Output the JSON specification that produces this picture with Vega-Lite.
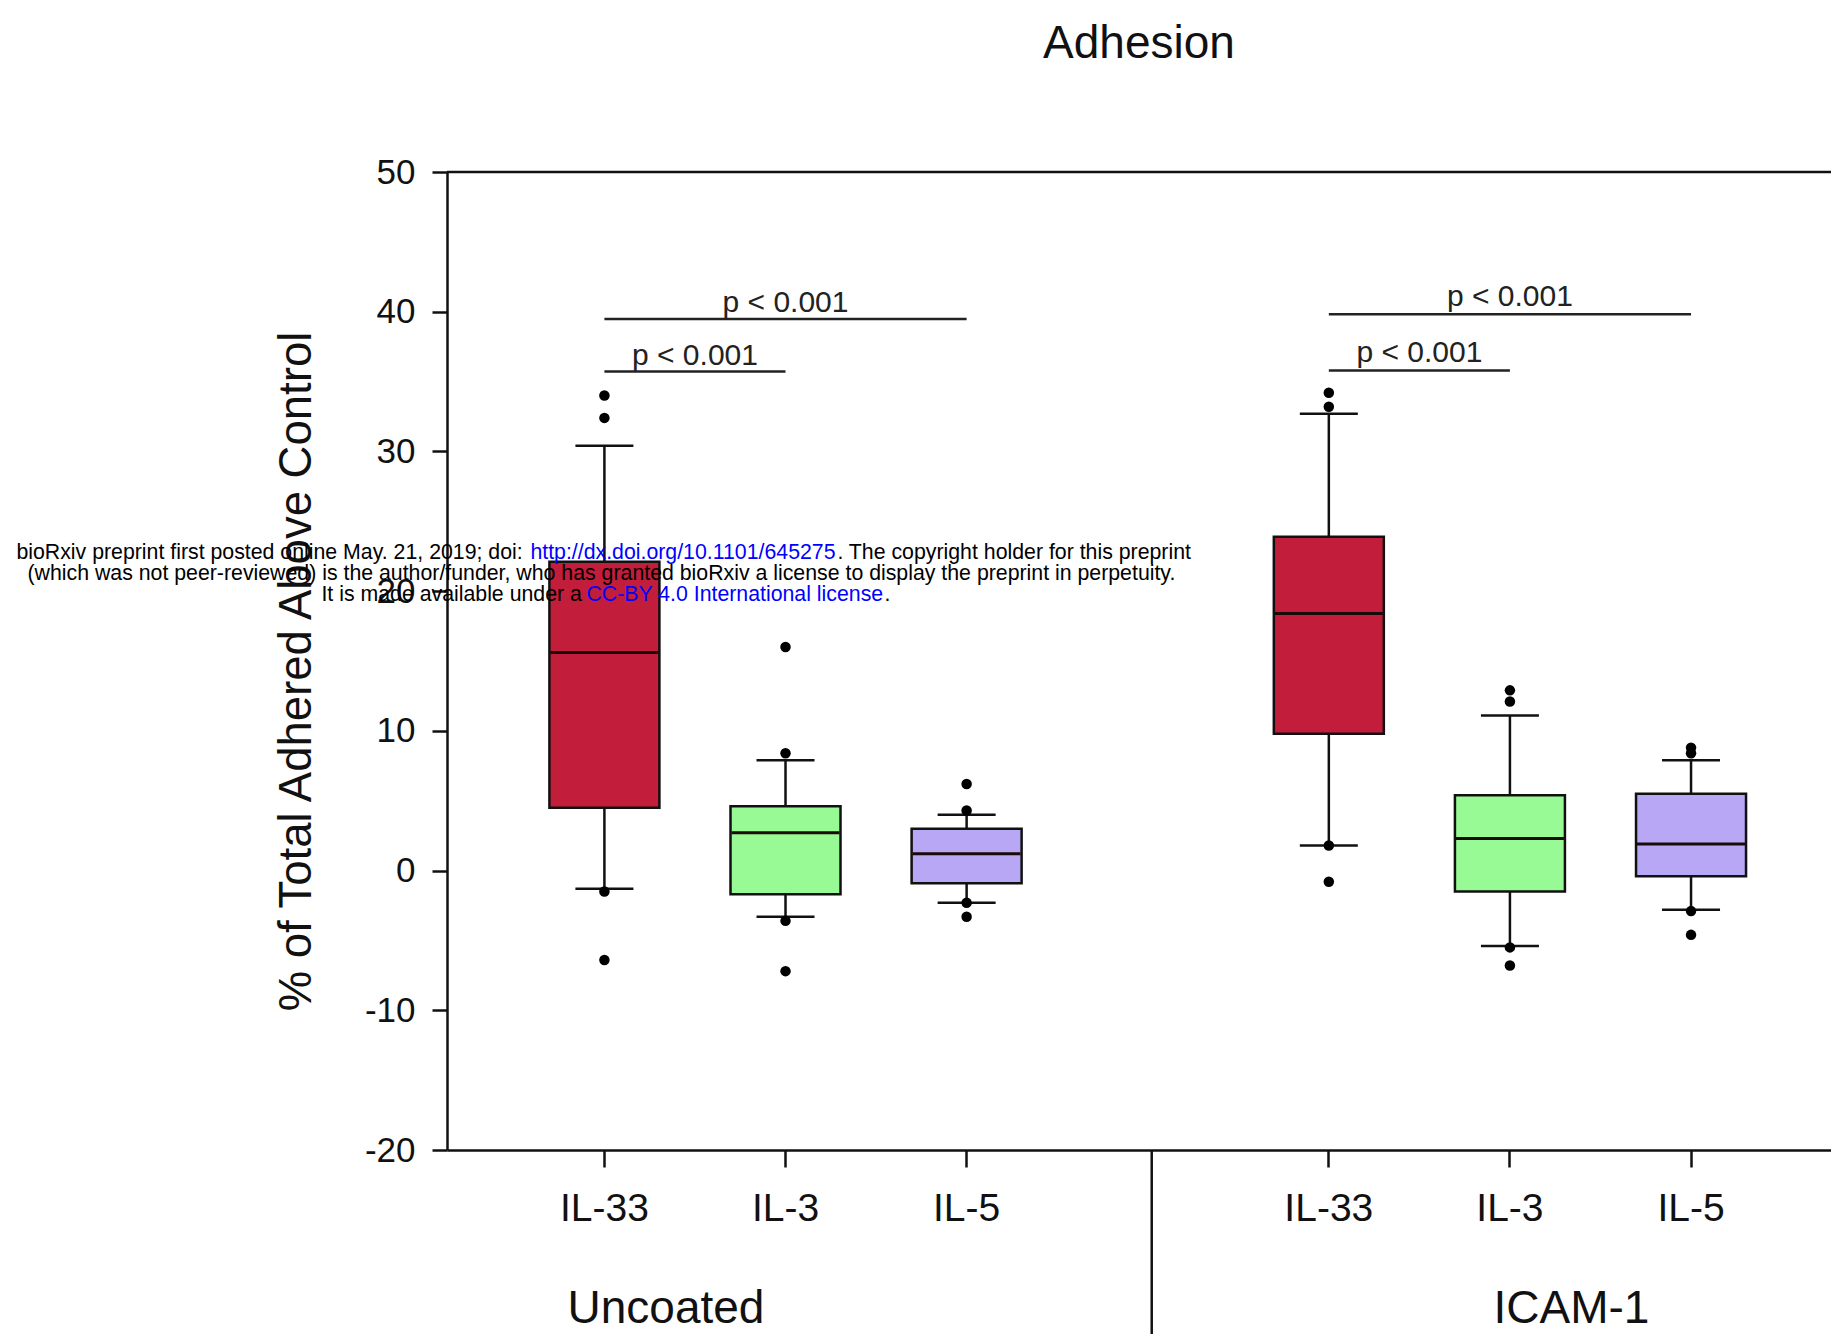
{
  "$schema": "https://vega.github.io/schema/vega-lite/v6.json",
  "width": 1384,
  "height": 978,
  "autosize": "none",
  "padding": {"left": 447, "top": 172, "right": 0, "bottom": 184},
  "background": "white",
  "title": {
    "text": "Adhesion",
    "font": "Liberation Sans",
    "fontSize": 46,
    "fontWeight": "normal",
    "color": "#111111",
    "anchor": "middle",
    "baseline": "alphabetic",
    "offset": 51
  },
  "datasets": {
    "boxes": [
      {"slot": "U-IL-33", "cytokine": "IL-33", "lower": -1.3, "q1": 4.5, "median": 15.6, "q3": 22.1, "upper": 30.4},
      {"slot": "U-IL-3", "cytokine": "IL-3", "lower": -3.3, "q1": -1.7, "median": 2.7, "q3": 4.6, "upper": 7.9},
      {"slot": "U-IL-5", "cytokine": "IL-5", "lower": -2.3, "q1": -0.9, "median": 1.2, "q3": 3.0, "upper": 4.0},
      {"slot": "I-IL-33", "cytokine": "IL-33", "lower": 1.8, "q1": 9.8, "median": 18.4, "q3": 23.9, "upper": 32.7},
      {"slot": "I-IL-3", "cytokine": "IL-3", "lower": -5.4, "q1": -1.5, "median": 2.3, "q3": 5.4, "upper": 11.1},
      {"slot": "I-IL-5", "cytokine": "IL-5", "lower": -2.8, "q1": -0.4, "median": 1.9, "q3": 5.5, "upper": 7.9}
    ],
    "points": [
      {"slot": "U-IL-33", "value": 34.0}, {"slot": "U-IL-33", "value": 32.4}, {"slot": "U-IL-33", "value": -1.5}, {"slot": "U-IL-33", "value": -6.4},
      {"slot": "U-IL-3", "value": 16.0}, {"slot": "U-IL-3", "value": 8.4}, {"slot": "U-IL-3", "value": -3.6}, {"slot": "U-IL-3", "value": -7.2},
      {"slot": "U-IL-5", "value": 6.2}, {"slot": "U-IL-5", "value": 4.3}, {"slot": "U-IL-5", "value": -2.3}, {"slot": "U-IL-5", "value": -3.3},
      {"slot": "I-IL-33", "value": 34.2}, {"slot": "I-IL-33", "value": 33.2}, {"slot": "I-IL-33", "value": 1.8}, {"slot": "I-IL-33", "value": -0.8},
      {"slot": "I-IL-3", "value": 12.9}, {"slot": "I-IL-3", "value": 12.1}, {"slot": "I-IL-3", "value": -5.5}, {"slot": "I-IL-3", "value": -6.8},
      {"slot": "I-IL-5", "value": 8.8}, {"slot": "I-IL-5", "value": 8.4}, {"slot": "I-IL-5", "value": -2.9}, {"slot": "I-IL-5", "value": -4.6}
    ],
    "brackets": [
      {"kind": "short", "x1": "U-IL-33", "x2": "U-IL-3", "ly": 35.72, "ty": 36.2, "label": "p < 0.001"},
      {"kind": "long", "x1": "U-IL-33", "x2": "U-IL-5", "ly": 39.47, "ty": 40.0, "label": "p < 0.001"},
      {"kind": "short", "x1": "I-IL-33", "x2": "I-IL-3", "ly": 35.79, "ty": 36.4, "label": "p < 0.001"},
      {"kind": "long", "x1": "I-IL-33", "x2": "I-IL-5", "ly": 39.81, "ty": 40.4, "label": "p < 0.001"}
    ],
    "groups": [
      {"slot": "U-IL-33", "label": "Uncoated"},
      {"slot": "I-IL-3", "label": "ICAM-1"}
    ],
    "watermark": [
      {"part": "1a", "text": "bioRxiv preprint first posted online May. 21, 2019; doi: "},
      {"part": "1b", "text": "http://dx.doi.org/10.1101/645275"},
      {"part": "1c", "text": ". The copyright holder for this preprint"},
      {"part": "2", "text": "(which was not peer-reviewed) is the author/funder, who has granted bioRxiv a license to display the preprint in perpetuity."},
      {"part": "3a", "text": "It is made available under a "},
      {"part": "3b", "text": "CC-BY 4.0 International license"},
      {"part": "3c", "text": "."}
    ]
  },
  "layer": [
    {
      "data": {"name": "boxes"},
      "mark": {"type": "rule", "color": "#111111", "strokeWidth": 2.5},
      "encoding": {
        "x": {"field": "slot", "type": "nominal",
              "scale": {"type": "band", "domain": ["U-IL-33", "U-IL-3", "U-IL-5", "sep", "I-IL-33", "I-IL-3", "I-IL-5"], "paddingInner": 0, "paddingOuter": 0.321, "align": 0.575}},
        "y": {"field": "lower", "type": "quantitative", "scale": {"domain": [-20, 50], "nice": false, "zero": false}},
        "y2": {"field": "upper"}
      }
    },
    {
      "data": {"name": "boxes"},
      "mark": {"type": "bar", "width": 110, "stroke": "#111111", "strokeWidth": 2.5},
      "encoding": {
        "x": {"field": "slot", "type": "nominal",
              "axis": {
                "title": null,
                "values": ["U-IL-33", "U-IL-3", "U-IL-5", "I-IL-33", "I-IL-3", "I-IL-5"],
                "labelExpr": "slice(datum.value, 2)",
                "domainColor": "#111111", "domainWidth": 2.5,
                "tickColor": "#111111", "tickWidth": 2.5, "tickSize": 17,
                "labelFont": "Liberation Sans",
                "labelFontSize": 39, "labelColor": "#111111", "labelPadding": 41,
                "labelAngle": 0, "labelAlign": "center", "labelBaseline": "middle", "grid": false
              }},
        "y": {"field": "q1", "type": "quantitative",
              "axis": {
                "title": "% of Total Adhered Above Control",
                "values": [-20, -10, 0, 10, 20, 30, 40, 50],
                "labelExpr": "'' + datum.value",
                "grid": false,
                "domainColor": "#111111", "domainWidth": 2.5,
                "tickColor": "#111111", "tickWidth": 2.5, "tickSize": 15,
                "labelFont": "Liberation Sans", "labelFontSize": 35, "labelColor": "#111111", "labelPadding": 17,
                "titleFont": "Liberation Sans", "titleFontSize": 45.5, "titleFontWeight": "normal",
                "titleColor": "#111111", "titleAngle": -90, "titleBaseline": "alphabetic",
                "titleX": -137, "titleY": 499, "titleAlign": "center"
              }},
        "y2": {"field": "q3"},
        "fill": {"field": "cytokine", "type": "nominal", "legend": null,
                 "scale": {"domain": ["IL-33", "IL-3", "IL-5"], "range": ["#C21D3A", "#98FA94", "#B8A7F5"]}}
      }
    },
    {
      "data": {"name": "boxes"},
      "mark": {"type": "tick", "color": "#1a0a0a", "size": 108, "thickness": 3, "opacity": 1},
      "encoding": {
        "x": {"field": "slot", "type": "nominal"},
        "y": {"field": "median", "type": "quantitative"}
      }
    },
    {
      "data": {"name": "boxes"},
      "mark": {"type": "tick", "color": "#111111", "size": 58, "thickness": 2.5, "opacity": 1},
      "encoding": {
        "x": {"field": "slot", "type": "nominal"},
        "y": {"field": "upper", "type": "quantitative"}
      }
    },
    {
      "data": {"name": "boxes"},
      "mark": {"type": "tick", "color": "#111111", "size": 58, "thickness": 2.5, "opacity": 1},
      "encoding": {
        "x": {"field": "slot", "type": "nominal"},
        "y": {"field": "lower", "type": "quantitative"}
      }
    },
    {
      "data": {"name": "points"},
      "mark": {"type": "circle", "color": "#000000", "size": 110, "opacity": 1},
      "encoding": {
        "x": {"field": "slot", "type": "nominal"},
        "y": {"field": "value", "type": "quantitative"}
      }
    },
    {
      "data": {"name": "brackets"},
      "mark": {"type": "rule", "color": "#222222", "strokeWidth": 2.5},
      "encoding": {
        "x": {"field": "x1", "type": "nominal"},
        "x2": {"field": "x2"},
        "y": {"field": "ly", "type": "quantitative"}
      }
    },
    {
      "data": {"name": "brackets"},
      "transform": [{"filter": "datum.kind === 'short'"}],
      "mark": {"type": "text", "font": "Liberation Sans", "fontSize": 30, "color": "#222222", "baseline": "alphabetic", "align": "center"},
      "encoding": {
        "x": {"field": "x1", "type": "nominal", "bandPosition": 1},
        "y": {"field": "ty", "type": "quantitative"},
        "text": {"field": "label"}
      }
    },
    {
      "data": {"name": "brackets"},
      "transform": [{"filter": "datum.kind === 'long'"}],
      "mark": {"type": "text", "font": "Liberation Sans", "fontSize": 30, "color": "#222222", "baseline": "alphabetic", "align": "center"},
      "encoding": {
        "x": {"field": "x2", "type": "nominal", "bandPosition": -0.5},
        "y": {"field": "ty", "type": "quantitative"},
        "text": {"field": "label"}
      }
    },
    {
      "data": {"values": [{}]},
      "mark": {"type": "rule", "color": "#111111", "strokeWidth": 2.5},
      "encoding": {
        "y": {"datum": 50, "type": "quantitative"}
      }
    },
    {
      "data": {"values": [{}]},
      "mark": {"type": "rule", "color": "#111111", "strokeWidth": 2.5, "xOffset": 4},
      "encoding": {
        "x": {"datum": "sep", "type": "nominal"},
        "y": {"datum": -20, "type": "quantitative"},
        "y2": {"datum": -34}
      }
    },
    {
      "data": {"name": "groups"},
      "mark": {"type": "text", "font": "Liberation Sans", "fontSize": 46, "color": "#111111", "baseline": "alphabetic", "align": "center"},
      "encoding": {
        "x": {"field": "slot", "type": "nominal", "bandPosition": 0.84},
        "y": {"datum": -32.4, "type": "quantitative"},
        "text": {"field": "label"}
      }
    },
    {
      "data": {"name": "watermark"},
      "transform": [{"filter": "datum.part === '1a'"}],
      "mark": {"type": "text", "font": "Liberation Sans", "fontSize": 21.3, "color": "#000000", "baseline": "alphabetic", "align": "left", "dx": -588},
      "encoding": {
        "x": {"datum": "U-IL-33", "type": "nominal"},
        "y": {"datum": 22.32, "type": "quantitative"},
        "text": {"field": "text"}
      }
    },
    {
      "data": {"name": "watermark"},
      "transform": [{"filter": "datum.part === '1b'"}],
      "mark": {"type": "text", "font": "Liberation Sans", "fontSize": 21.3, "color": "#0000FF", "baseline": "alphabetic", "align": "left", "dx": -74},
      "encoding": {
        "x": {"datum": "U-IL-33", "type": "nominal"},
        "y": {"datum": 22.32, "type": "quantitative"},
        "text": {"field": "text"}
      }
    },
    {
      "data": {"name": "watermark"},
      "transform": [{"filter": "datum.part === '1c'"}],
      "mark": {"type": "text", "font": "Liberation Sans", "fontSize": 21.3, "color": "#000000", "baseline": "alphabetic", "align": "left", "dx": 233},
      "encoding": {
        "x": {"datum": "U-IL-33", "type": "nominal"},
        "y": {"datum": 22.32, "type": "quantitative"},
        "text": {"field": "text"}
      }
    },
    {
      "data": {"name": "watermark"},
      "transform": [{"filter": "datum.part === '2'"}],
      "mark": {"type": "text", "font": "Liberation Sans", "fontSize": 21.3, "color": "#000000", "baseline": "alphabetic", "align": "center", "dx": -3},
      "encoding": {
        "x": {"datum": "U-IL-33", "type": "nominal"},
        "y": {"datum": 20.82, "type": "quantitative"},
        "text": {"field": "text"}
      }
    },
    {
      "data": {"name": "watermark"},
      "transform": [{"filter": "datum.part === '3a'"}],
      "mark": {"type": "text", "font": "Liberation Sans", "fontSize": 21.3, "color": "#000000", "baseline": "alphabetic", "align": "left", "dx": -283},
      "encoding": {
        "x": {"datum": "U-IL-33", "type": "nominal"},
        "y": {"datum": 19.32, "type": "quantitative"},
        "text": {"field": "text"}
      }
    },
    {
      "data": {"name": "watermark"},
      "transform": [{"filter": "datum.part === '3b'"}],
      "mark": {"type": "text", "font": "Liberation Sans", "fontSize": 21.3, "color": "#0000FF", "baseline": "alphabetic", "align": "left", "dx": -18},
      "encoding": {
        "x": {"datum": "U-IL-33", "type": "nominal"},
        "y": {"datum": 19.32, "type": "quantitative"},
        "text": {"field": "text"}
      }
    },
    {
      "data": {"name": "watermark"},
      "transform": [{"filter": "datum.part === '3c'"}],
      "mark": {"type": "text", "font": "Liberation Sans", "fontSize": 21.3, "color": "#000000", "baseline": "alphabetic", "align": "left", "dx": 280},
      "encoding": {
        "x": {"datum": "U-IL-33", "type": "nominal"},
        "y": {"datum": 19.32, "type": "quantitative"},
        "text": {"field": "text"}
      }
    }
  ],
  "config": {
    "view": {"stroke": null},
    "axis": {"grid": false}
  }
}
